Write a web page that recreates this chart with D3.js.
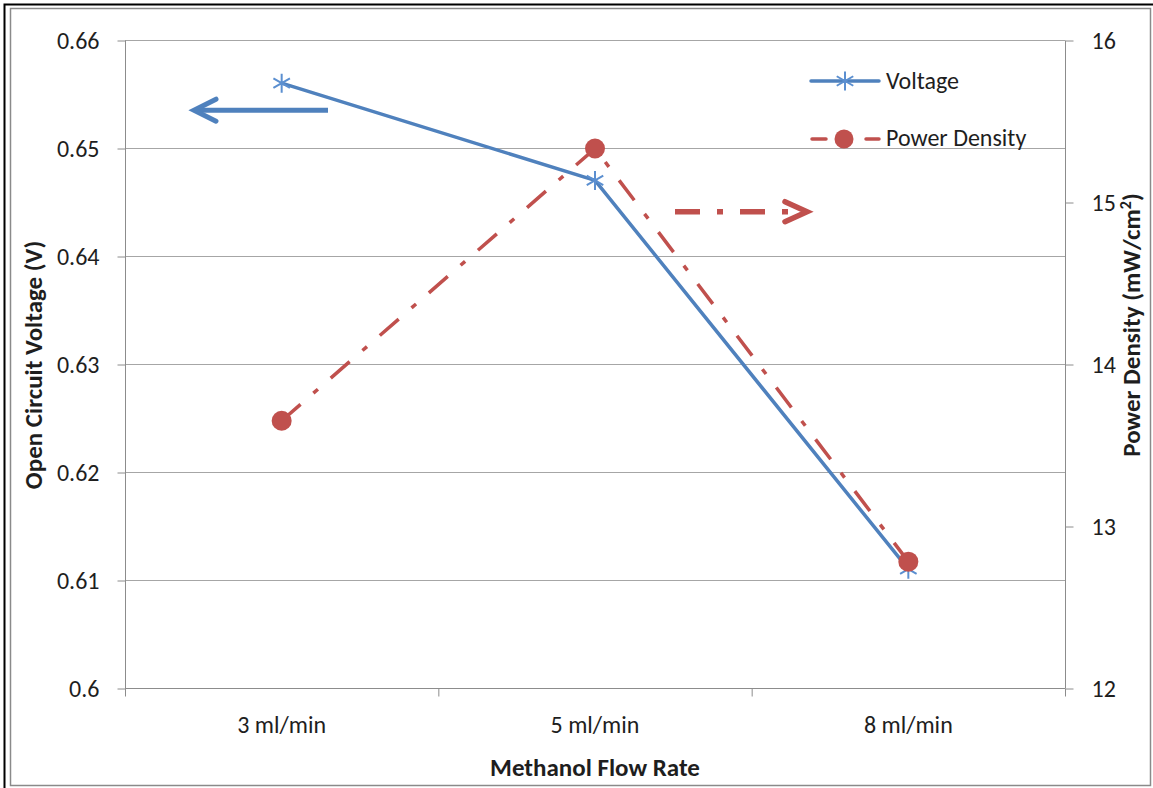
<!DOCTYPE html>
<html>
<head>
<meta charset="utf-8">
<script src="https://cdn.jsdelivr.net/npm/d3@7"></script>
<style>
  html, body { margin: 0; padding: 0; background: #fff; }
  svg { display: block; font-family: Carlito, Lato, "Liberation Sans", sans-serif; }
</style>
</head>
<body>
<svg id="chart" width="1153" height="788"></svg>
<script>
// Flow rates tested and the measured responses
const categories = ["3 ml/min", "5 ml/min", "8 ml/min"];
const voltage = [0.656, 0.647, 0.611];          // open circuit voltage, V
const powerDensity = [13.65, 15.33, 12.78];     // mW/cm²
const voltageTicks = [0.6, 0.61, 0.62, 0.63, 0.64, 0.65, 0.66];
const powerTicks = [12, 13, 14, 15, 16];

const svg = d3.select("#chart");
const W = 1153, H = 788;
const plot = { left: 125, right: 1065, top: 40, bottom: 688 };

const blue = "#4F81BD", blueMarker = "#5B8FD0";
const red = "#C0504D";
const axisGray = "#8C8C8C", gridGray = "#A6A6A6";
const textColor = "#1e1e1e";
const labelSize = 24, titleSize = 25;
const dashDot = "25,17,6,17";

// Frame: dark inset edge on top/left and a grey chart border
svg.append("rect").attr("x", 0).attr("y", 0).attr("width", W).attr("height", H).attr("fill", "#fff");
svg.append("path").attr("d", `M4.5,${H} V4.5 H${W}`).attr("fill", "none").attr("stroke", "#000").attr("stroke-width", 2);
svg.append("rect").attr("x", 10.5).attr("y", 8.5).attr("width", 1140).attr("height", 777)
  .attr("fill", "none").attr("stroke", "#8a8a8a").attr("stroke-width", 1.5);

const x = d3.scaleBand().domain(categories).range([plot.left, plot.right]).paddingInner(0).paddingOuter(0);
const yL = d3.scaleLinear().domain([0.6, 0.66]).range([plot.bottom, plot.top]);
const yR = d3.scaleLinear().domain([12, 16]).range([plot.bottom, plot.top]);
const cx = c => x(c) + x.bandwidth() / 2;

// Horizontal gridlines
svg.append("g").selectAll("line").data(voltageTicks.slice(1)).join("line")
  .attr("x1", plot.left).attr("x2", plot.right)
  .attr("y1", d => Math.round(yL(d)) + 0.5).attr("y2", d => Math.round(yL(d)) + 0.5)
  .attr("stroke", gridGray).attr("stroke-width", 1);

// Left axis
const leftAxis = svg.append("g").attr("transform", `translate(${plot.left + 0.5},0.5)`)
  .call(d3.axisLeft(yL).tickValues(voltageTicks).tickSize(8).tickPadding(18)
    .tickFormat(d => d === 0.6 ? "0.6" : d3.format(".2f")(d)));
// Right axis
const rightAxis = svg.append("g").attr("transform", `translate(${plot.right + 0.5},0.5)`)
  .call(d3.axisRight(yR).tickValues(powerTicks).tickSize(8).tickPadding(18).tickFormat(d3.format("d")));
// Bottom axis with ticks at band boundaries
const boundaries = categories.map(c => x(c)).concat([plot.right]);
const bottom = svg.append("g").attr("transform", `translate(0,${plot.bottom + 0.5})`);
bottom.append("line").attr("x1", plot.left).attr("x2", plot.right).attr("stroke", axisGray);
bottom.selectAll("line.tk").data(boundaries).join("line").attr("class", "tk")
  .attr("x1", d => d + 0.5).attr("x2", d => d + 0.5).attr("y1", 0).attr("y2", 8).attr("stroke", axisGray);
bottom.selectAll("text").data(categories).join("text")
  .attr("x", d => cx(d)).attr("y", 44).attr("text-anchor", "middle")
  .attr("font-size", labelSize).attr("fill", textColor).text(d => d);

[leftAxis, rightAxis].forEach(g => {
  g.attr("font-family", null).attr("font-size", null);
  g.select(".domain").attr("stroke", axisGray).attr("d", `M0,${plot.top}V${plot.bottom}`);
  g.selectAll(".tick line").attr("stroke", axisGray);
  g.selectAll(".tick text").attr("font-size", labelSize).attr("fill", textColor);
});

// Axis titles
svg.append("text").attr("x", 595).attr("y", 776).attr("text-anchor", "middle")
  .attr("font-size", titleSize).attr("font-weight", "bold").attr("fill", textColor).text("Methanol Flow Rate");
svg.append("text").attr("transform", "translate(42,365) rotate(-90)").attr("text-anchor", "middle")
  .attr("font-size", titleSize).attr("font-weight", "bold").attr("fill", textColor).text("Open Circuit Voltage (V)");
const rt = svg.append("text").attr("transform", "translate(1140,325) rotate(-90)").attr("text-anchor", "middle")
  .attr("font-size", titleSize).attr("font-weight", "bold").attr("fill", textColor);
rt.append("tspan").text("Power Density (mW/cm");
rt.append("tspan").attr("font-size", 16).attr("dy", -9).text("2");
rt.append("tspan").attr("dy", 9).text(")");

// Asterisk marker path
const star = (s) => `M0,${-s}V${s}M${-s * 0.87},${-s * 0.5}L${s * 0.87},${s * 0.5}M${-s * 0.87},${s * 0.5}L${s * 0.87},${-s * 0.5}`;

// Voltage series
const vPts = categories.map((c, i) => [cx(c), yL(voltage[i])]);
svg.append("path").attr("d", d3.line()(vPts)).attr("fill", "none")
  .attr("stroke", blue).attr("stroke-width", 3.5).attr("stroke-linejoin", "round");
svg.append("g").selectAll("path").data(vPts).join("path")
  .attr("transform", d => `translate(${d[0]},${d[1]})`).attr("d", star(9.5))
  .attr("stroke", blueMarker).attr("stroke-width", 2).attr("fill", "none");

// Power density series
const pPts = categories.map((c, i) => [cx(c), yR(powerDensity[i])]);
svg.append("path").attr("d", d3.line()(pPts)).attr("fill", "none")
  .attr("stroke", red).attr("stroke-width", 3.5).attr("stroke-dasharray", dashDot);
svg.append("g").selectAll("circle").data(pPts).join("circle")
  .attr("cx", d => d[0]).attr("cy", d => d[1]).attr("r", 10).attr("fill", red);

// Direction arrows pointing to each series' axis
const arrowV = { y: 0.6535, from: 328, to: 194 };
const arrowP = { y: 14.94, from: 675, to: 807 };
const av = svg.append("g").attr("fill", "none").attr("stroke", blue).attr("stroke-width", 5).attr("stroke-linecap", "round");
const avy = yL(arrowV.y);
av.append("line").attr("x1", arrowV.from).attr("x2", arrowV.to + 2).attr("y1", avy).attr("y2", avy).attr("stroke-linecap", "butt");
av.append("path").attr("d", `M${arrowV.to + 22},${avy - 11}L${arrowV.to},${avy}L${arrowV.to + 22},${avy + 11}`)
  .attr("stroke-linejoin", "miter");
const ap = svg.append("g").attr("fill", "none").attr("stroke", red).attr("stroke-width", 5.5);
const apy = yR(arrowP.y);
ap.append("line").attr("x1", arrowP.from).attr("x2", arrowP.to - 4).attr("y1", apy).attr("y2", apy)
  .attr("stroke-dasharray", dashDot);
ap.append("path").attr("d", `M${arrowP.to - 22},${apy - 10}L${arrowP.to},${apy}L${arrowP.to - 22},${apy + 10}`)
  .attr("stroke-linecap", "round");

// Legend
const lg = svg.append("g");
lg.append("line").attr("x1", 811).attr("x2", 879).attr("y1", 81).attr("y2", 81)
  .attr("stroke", blue).attr("stroke-width", 3.5).attr("stroke-linecap", "round");
lg.append("path").attr("transform", "translate(845,81)").attr("d", star(9.5))
  .attr("stroke", blueMarker).attr("stroke-width", 2).attr("fill", "none");
lg.append("text").attr("x", 886).attr("y", 89).attr("font-size", labelSize).attr("fill", textColor).text("Voltage");
lg.append("line").attr("x1", 812).attr("x2", 826).attr("y1", 139).attr("y2", 139)
  .attr("stroke", red).attr("stroke-width", 3.5).attr("stroke-linecap", "round");
lg.append("line").attr("x1", 866).attr("x2", 879).attr("y1", 139).attr("y2", 139)
  .attr("stroke", red).attr("stroke-width", 3.5).attr("stroke-linecap", "round");
lg.append("circle").attr("cx", 844).attr("cy", 139).attr("r", 9.5).attr("fill", red);
lg.append("text").attr("x", 886).attr("y", 146).attr("font-size", labelSize).attr("fill", textColor).text("Power Density");
</script>
</body>
</html>
